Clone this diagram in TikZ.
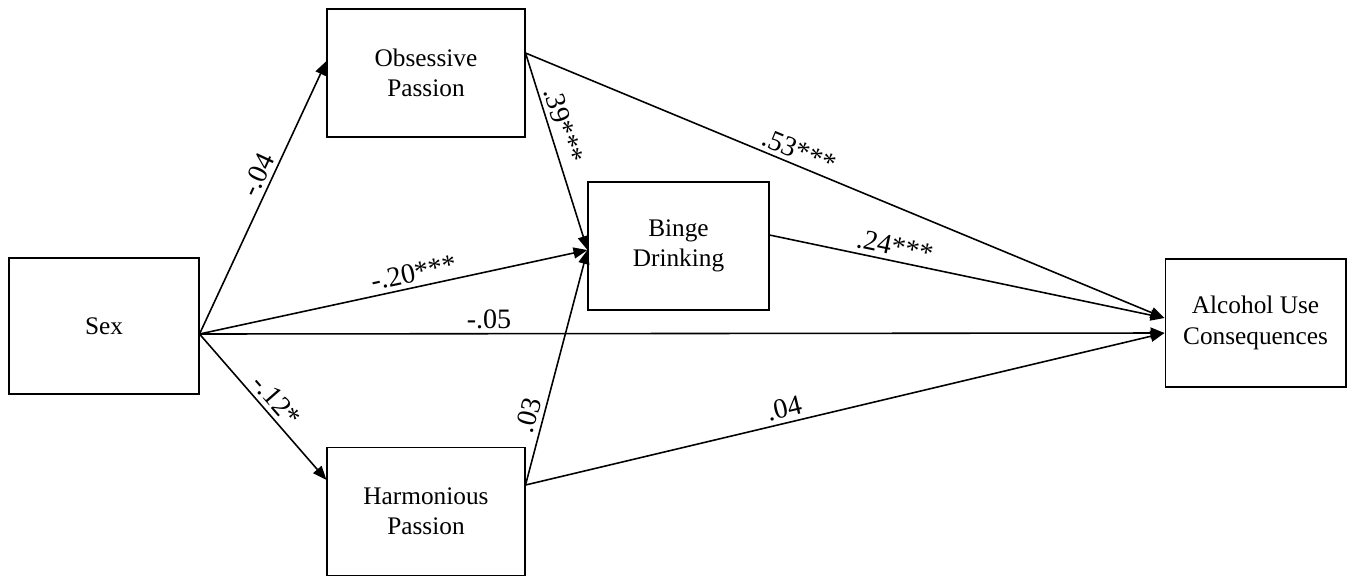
\documentclass[tikz,border=0pt]{standalone}
\usepackage{fontspec}
\setmainfont{Liberation Serif}
\usetikzlibrary{arrows.meta}

\def\boxfont{\fontsize{14.4}{17.3}\selectfont}
\def\coeffont{\fontsize{16}{19}\selectfont}
\tikzstyle{construct}=[draw,rectangle,line width=0.6pt,align=center,
                  minimum width=3.96cm,minimum height=2.56cm,font=\boxfont]
\tikzstyle{effect}=[line width=0.9pt,-{Triangle[length=0.28cm,width=0.22cm]}]
\tikzstyle{coef}=[above,sloped,inner sep=2.5pt,font=\coeffont]

\begin{document}
\begin{tikzpicture}[x=0.02cm,y=-0.02cm]
  \useasboundingbox (0,0) rectangle (1353,576);

  % Place constructs
  \node[construct,minimum width=3.8cm,minimum height=2.72cm] (sex) at (104,326) {Sex};
  \node[construct] (op) at (426,73) {Obsessive\\Passion};
  \node[construct] (hp) at (426,511.5) {Harmonious\\Passion};
  \node[construct,minimum width=3.62cm] (binge) at (678.5,246) {Binge\\Drinking};
  \node[construct,minimum width=3.62cm] (auc) at (1255.5,323) {Alcohol Use\\Consequences};

  % Ports on the box edges
  \coordinate (sexout) at ([yshift=-0.16cm]sex.east);
  \coordinate (opin) at ([yshift=0.24cm]op.west);
  \coordinate (opout) at ([yshift=0.4cm]op.east);
  \coordinate (hpin) at ([yshift=0.63cm]hp.west);
  \coordinate (hpout) at ([yshift=0.53cm]hp.east);
  \coordinate (bingein) at ([yshift=-0.08cm]binge.west);
  \coordinate (bingeout) at ([yshift=0.22cm]binge.east);
  \coordinate (aucup) at ([yshift=0.1cm]auc.west);
  \coordinate (aucdown) at ([yshift=-0.2cm]auc.west);

  % Paths from sex
  \path[effect] (sexout) edge node[coef,pos=0.56] {-.04} (opin);
  \path[effect] (sexout) edge node[coef,pos=0.56] {-.20***} (bingein);
  \path[effect] (sexout) edge node[coef,pos=0.30] {-.05} (aucdown);
  \path[effect] (sexout) edge node[coef,pos=0.52] {-.12*} (hpin);

  % Paths from the passions
  \path[effect] (opout) edge node[coef,pos=0.39] {.39***} (bingein);
  \path[effect] (opout) edge node[coef,pos=0.42] {.53***} (aucup);
  \path[effect] (hpout) edge node[coef,pos=0.28] {.03} (bingein);
  \path[effect] (hpout) edge node[coef,pos=0.41] {.04} (aucdown);

  % Binge drinking to consequences
  \path[effect] (bingeout) edge node[coef,pos=0.31] {.24***} (aucup);

\end{tikzpicture}
\end{document}
